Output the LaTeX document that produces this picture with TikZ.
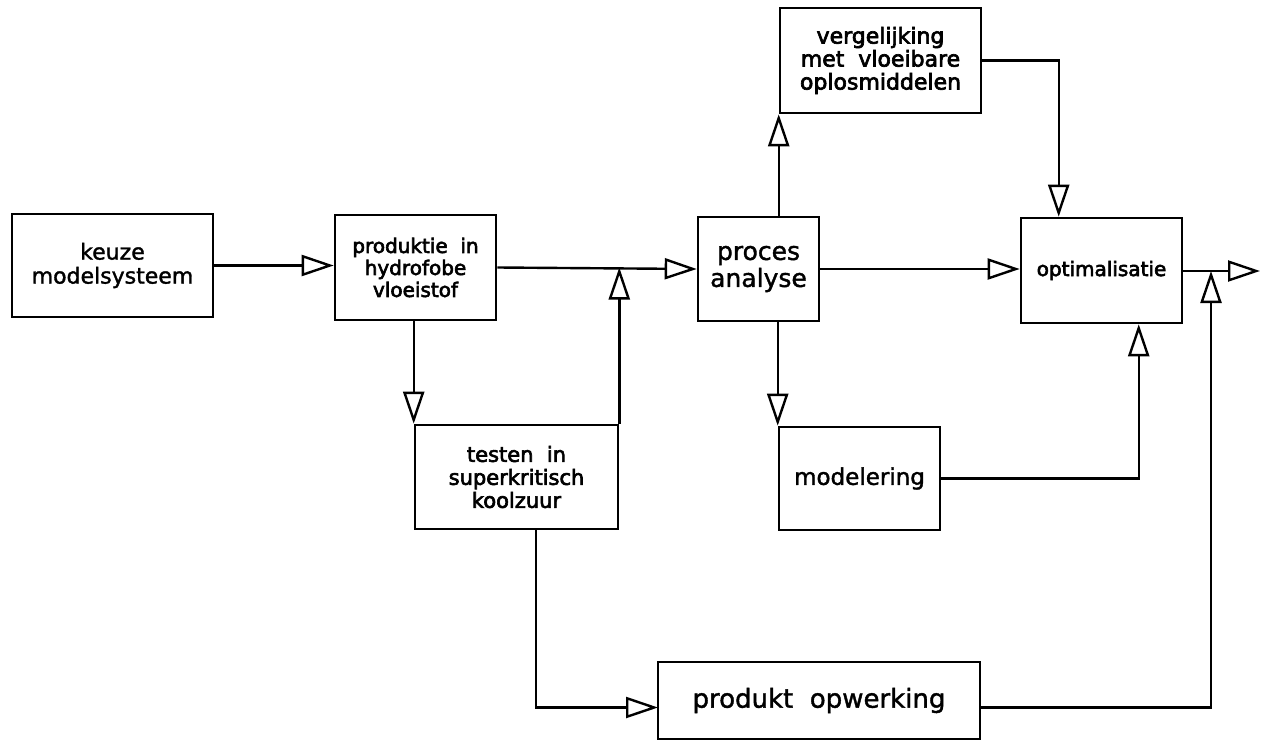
\documentclass[tikz,border=0pt]{standalone}
\usepackage{fontspec}
\setmainfont{DejaVu Sans}
\newfontfamily\plotlight[RawFeature={embolden=1.5}]{DejaVu Sans}
\newfontfamily\plotheavy[RawFeature={embolden=3}]{DejaVu Sans}
\usetikzlibrary{arrows.meta,calc}
\tikzset{
  blk/.style={draw, line width=2.6pt, inner sep=0pt, align=center, rectangle},
  lnk/.style={line width=2.4pt},
  arr/.style={lnk, -{Triangle[open, length=32pt, width=21pt, line width=2.4pt]}},
}
\newcommand{\fs}[2]{\fontsize{#1}{#2}\selectfont}
\begin{document}
\begin{tikzpicture}[x=1pt, y=-1pt]
\useasboundingbox (0,0) rectangle (1271,743);
\fill[white] (0,0) rectangle (1271,743);

\node[blk, minimum width=201pt, minimum height=103pt, font=\plotlight\fs{22}{24}] (keuze) at (112.5,265.5) {keuze\\modelsysteem};
\node[blk, minimum width=161pt, minimum height=105pt, font=\plotheavy\fs{20}{22}] (prod) at (415.5,267.5) {produktie\ \ in\\hydrofobe\\vloeistof};
\node[blk, minimum width=203pt, minimum height=104pt, font=\plotheavy\fs{21}{23}] (test) at (516.5,477) {testen\ \ in\\superkritisch\\koolzuur};
\node[blk, minimum width=121pt, minimum height=104pt, font=\plotlight\fs{25}{27}] (proc) at (758.5,269) {proces\\analyse};
\node[blk, minimum width=201pt, minimum height=105pt, font=\plotheavy\fs{22}{23}] (verg) at (880.5,60.5) {vergelijking\\met\ \ vloeibare\\oplosmiddelen};
\node[blk, minimum width=161pt, minimum height=103pt, font=\plotlight\fs{23}{25}] (mod) at (859.5,478.5) {modelering};
\node[blk, minimum width=161pt, minimum height=105pt, font=\plotheavy\fs{20}{22}] (opt) at (1101.5,270.5) {optimalisatie};
\node[blk, minimum width=322pt, minimum height=77pt, font=\plotlight\fs{26}{28}] (pow) at (819,700.5) {produkt\ \ opwerking};

\coordinate (optin) at ($(opt.north west)+(39,0)$);
\coordinate (optb) at ($(opt.south west)+(119,0)$);
\coordinate (out) at (1260,271);
\coordinate (powin) at (658,707.5);
\coordinate (powout) at (980,707.5);
\coordinate (tb) at (536,529);
\coordinate (merge2) at (1211,271);

\draw[arr] (keuze.east) -- (keuze.east -| prod.west);
\draw[arr] (prod.east) -- (proc.west);
\draw[arr] (test.north east) -- (test.north east |- prod.east);
\draw[arr] (test.north west |- prod.south) -- (test.north west);
\draw[arr] (verg.south west |- proc.north) -- (verg.south west);
\draw[arr] (verg.east) -| (optin);
\draw[arr] (proc.east) -- (proc.east -| opt.west);
\draw[arr] (mod.north west |- proc.south) -- (mod.north west);
\draw[arr] (mod.east) -| (optb);
\draw[arr] (opt.east |- out) -- (out);
\draw[arr] (powout) -| (merge2);
\draw[arr] (tb) |- (powin);
\end{tikzpicture}
\end{document}
